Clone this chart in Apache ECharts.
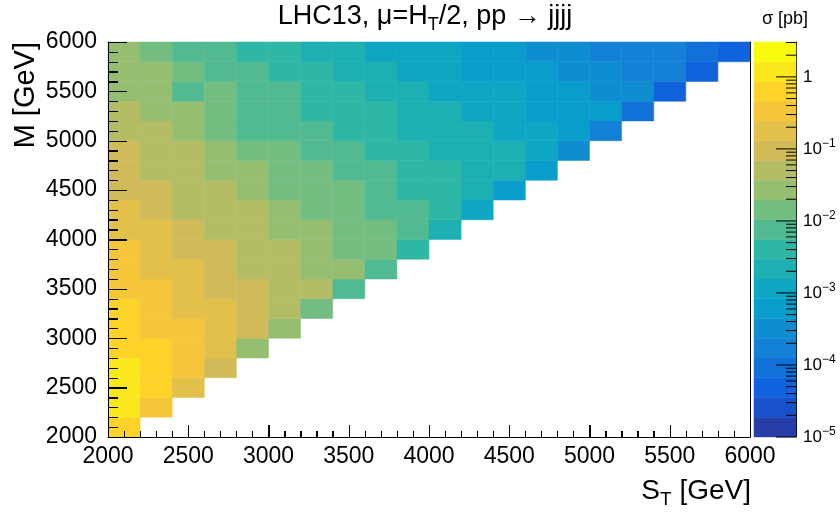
<!DOCTYPE html>
<html><head><meta charset="utf-8">
<script src="https://cdn.jsdelivr.net/npm/echarts@6/dist/echarts.min.js"></script>
<style>html,body{margin:0;padding:0;background:#fff}#c{width:840px;height:512px}</style>
</head><body><div id="c"></div>
<script>
// ---- bin edges (GeV) ----
const stEdges = [2000,2200,2400,2600,2800,3000,3200,3400,3600,3800,4000,4200,4400,4600,4800,5000,5200,5400,5600,5800,6000];
const mEdges  = [2000,2200,2400,2600,2800,3000,3200,3400,3600,3800,4000,4200,4400,4600,4800,5000,5200,5400,5600,5800,6000];
const axisTicks = [2000,2500,3000,3500,4000,4500,5000,5500,6000];

// ---- sigma [pb] per M bin; index = S_T bin starting at 2000 ----
const sigma_M2000 = [0.63];
const sigma_M2200 = [1.18,0.335];
const sigma_M2400 = [1.18,0.63,0.178];
const sigma_M2600 = [1.18,0.63,0.335,0.095];
const sigma_M2800 = [0.63,0.63,0.335,0.178,0.027];
const sigma_M3000 = [0.63,0.335,0.335,0.178,0.095,0.027];
const sigma_M3200 = [0.63,0.335,0.178,0.178,0.095,0.050,0.0142];
const sigma_M3400 = [0.335,0.335,0.178,0.095,0.095,0.050,0.050,0.0076];
const sigma_M3600 = [0.335,0.178,0.178,0.095,0.050,0.050,0.027,0.027,0.0076];
const sigma_M3800 = [0.335,0.178,0.095,0.095,0.050,0.050,0.027,0.0142,0.0142,0.0040];
const sigma_M4000 = [0.178,0.178,0.095,0.050,0.050,0.027,0.027,0.0142,0.0142,0.0076,0.00215];
const sigma_M4200 = [0.178,0.095,0.050,0.050,0.050,0.027,0.0142,0.0142,0.0076,0.0076,0.0040,0.00115];
const sigma_M4400 = [0.095,0.095,0.050,0.050,0.027,0.0142,0.0142,0.0142,0.0076,0.0040,0.0040,0.00215,0.00060];
const sigma_M4600 = [0.095,0.050,0.050,0.027,0.027,0.0142,0.0142,0.0076,0.0076,0.0040,0.0040,0.00215,0.00215,0.00060];
const sigma_M4800 = [0.095,0.050,0.050,0.027,0.0142,0.0142,0.0076,0.0076,0.0040,0.0040,0.00215,0.00215,0.00215,0.00115,0.00032];
const sigma_M5000 = [0.050,0.050,0.027,0.0142,0.0076,0.0076,0.0076,0.0040,0.0040,0.00215,0.00215,0.00215,0.00115,0.00115,0.00060,0.00017];
const sigma_M5200 = [0.050,0.027,0.027,0.0142,0.0076,0.0076,0.0040,0.0040,0.0040,0.00215,0.00215,0.00115,0.00115,0.00060,0.00060,0.00060,0.000090];
const sigma_M5400 = [0.027,0.027,0.0076,0.0142,0.0076,0.0076,0.0040,0.0040,0.00215,0.00215,0.00115,0.00115,0.00115,0.00060,0.00060,0.00032,0.00032,0.000048];
const sigma_M5600 = [0.027,0.027,0.0142,0.0076,0.0076,0.0040,0.0040,0.00215,0.00215,0.00115,0.00115,0.00060,0.00060,0.00060,0.00032,0.00032,0.00017,0.00017,0.000048];
const sigma_M5800 = [0.027,0.0142,0.0076,0.0076,0.0040,0.0040,0.00215,0.00215,0.00115,0.00115,0.00115,0.00060,0.00060,0.00032,0.00032,0.00017,0.00017,0.00017,0.000090,0.000048];

// ---- colour scale ----
const zMin = 1e-5, zMax = 3.05, nBands = 20;
const palette = ['#273DA8','#1751CB','#1063DC','#1271D9','#1480D6','#0E8ED1','#099DCC','#0DA7C3','#1EAFB3','#2EB7A4',
                 '#52BA91','#74BD80','#96BE71','#B4BC65','#D1BB58','#E2C04A','#F5C63A','#FDD32A','#FBE81C','#F9FB0E'];

const rows = [sigma_M2000,sigma_M2200,sigma_M2400,sigma_M2600,sigma_M2800,sigma_M3000,sigma_M3200,sigma_M3400,sigma_M3600,sigma_M3800,
              sigma_M4000,sigma_M4200,sigma_M4400,sigma_M4600,sigma_M4800,sigma_M5000,sigma_M5200,sigma_M5400,sigma_M5600,sigma_M5800];

const lMin = Math.log10(zMin), lMax = Math.log10(zMax), bw = (lMax - lMin) / nBands;
function bandOf(v){ let k = Math.floor((Math.log10(v) - lMin) / bw); return Math.max(0, Math.min(nBands - 1, k)); }

// cells: [x0, y0, x1, y1, sigma]
const cells = [];
rows.forEach((row, j) => row.forEach((v, i) => cells.push([stEdges[i], mEdges[j], stEdges[i+1], mEdges[j+1], v])));

// frame ticks every 100 GeV: [value, isMajor]
const frameTicks = [];
for (let v = axisTicks[0]; v <= axisTicks[axisTicks.length - 1]; v += 100) frameTicks.push([v, axisTicks.indexOf(v) >= 0 ? 1 : 0]);

const bands = [];
for (let k = 0; k < nBands; k++) bands.push([0.5, lMin + (k + 0.5)*bw, lMin + k*bw, lMin + (k+1)*bw, k, 0]);
for (let e = -5; e <= 0; e++) {
  bands.push([1, e, 0, 0, 1, 1]);
  for (let m = 2; m <= 9; m++) { const l = e + Math.log10(m); if (l < lMax) bands.push([1, l, 0, 0, 0, 1]); }
}

const FONT = '"Liberation Sans", Arial, Helvetica, sans-serif';
const chart = echarts.init(document.getElementById('c'), null, {renderer: 'canvas', width: 840, height: 512});
const plain = v => String(Math.round(v));

const titleGraphics = [
  {type: 'text', x: 425, y: 17, style: {text: '{n|LHC13, μ=H}{sub|T}{n|/2, pp → jjjj}', align: 'center', verticalAlign: 'middle',
    rich: {n: {fontSize: 27, fontFamily: FONT, color: '#000'}, sub: {fontSize: 18, fontFamily: FONT, color: '#000', padding: [16, 0, 0, 0]}}}},
  {type: 'text', x: 785, y: 19, style: {text: 'σ [pb]', align: 'center', verticalAlign: 'middle', font: '18px ' + FONT, fill: '#000'}},
  {type: 'text', x: 751, y: 491, style: {text: '{n|S}{sub|T}{n| [GeV]}', align: 'right', verticalAlign: 'middle',
    rich: {n: {fontSize: 28, fontFamily: FONT, color: '#000'}, sub: {fontSize: 19, fontFamily: FONT, color: '#000', padding: [17, 0, 0, 0]}}}},
  {type: 'text', x: 26, y: 42, rotation: Math.PI / 2, style: {text: 'M [GeV]', align: 'right', verticalAlign: 'middle', font: '29px ' + FONT, fill: '#000'}}
];

chart.setOption({
  animation: false,
  backgroundColor: '#ffffff',
  grid: [
    {left: 108, top: 42, width: 642, height: 395, show: false},
    {left: 754, top: 42, width: 42, height: 395}
  ],
  xAxis: [
    {type: 'value', gridIndex: 0, min: 2000, max: 6000, interval: 500, z: 20,
     axisLine: {show: true, onZero: false, lineStyle: {color: '#000', width: 1}},
     axisTick: {show: true, inside: true, length: 12, lineStyle: {color: '#000', width: 1}},
     minorTick: {show: true, splitNumber: 5, length: 6, lineStyle: {color: '#000', width: 1}},
     splitLine: {show: false},
     axisLabel: {fontSize: 23, color: '#000', fontFamily: FONT, margin: 8, formatter: plain}},
    {type: 'value', gridIndex: 0, min: 2000, max: 6000, position: 'top',
     axisLine: {show: true, onZero: false, lineStyle: {color: '#000', width: 1}},
     axisTick: {show: false}, axisLabel: {show: false}, splitLine: {show: false}},
    {type: 'value', gridIndex: 1, min: 0, max: 1, show: false}
  ],
  yAxis: [
    {type: 'value', gridIndex: 0, min: 2000, max: 6000, interval: 500, z: 20,
     axisLine: {show: true, onZero: false, lineStyle: {color: '#000', width: 1}},
     axisTick: {show: true, inside: true, length: 19, lineStyle: {color: '#000', width: 1}},
     minorTick: {show: true, splitNumber: 5, length: 10, lineStyle: {color: '#000', width: 1}},
     splitLine: {show: false},
     axisLabel: {fontSize: 23, color: '#000', fontFamily: FONT, margin: 11, formatter: plain}},
    {type: 'value', gridIndex: 0, min: 2000, max: 6000, position: 'right',
     axisLine: {show: true, onZero: false, lineStyle: {color: '#000', width: 1}},
     axisTick: {show: false}, axisLabel: {show: false}, splitLine: {show: false}},
    {type: 'value', gridIndex: 1, min: -5, max: lMax, interval: 1, position: 'right',
     axisLine: {show: true, onZero: false, lineStyle: {color: '#000', width: 1}},
     axisTick: {show: false}, splitLine: {show: false},
     axisLabel: {margin: 7, color: '#000', fontFamily: FONT, showMaxLabel: false,
       formatter: v => (Math.abs(v - Math.round(v)) > 1e-6 ? '' : (Math.round(v) === 0 ? '{b|1}' : '{b|10}{s|−' + (-Math.round(v)) + '}')),
       rich: {b: {fontSize: 17, fontFamily: FONT, color: '#000'}, s: {fontSize: 12, fontFamily: FONT, color: '#000', padding: [0, 0, 10, 0]}}}}
  ],
  series: [
    {type: 'custom', xAxisIndex: 0, yAxisIndex: 0, data: cells, clip: false, z: 2,
     renderItem: (params, api) => {
       const p0 = api.coord([api.value(0), api.value(3)]);
       const p1 = api.coord([api.value(2), api.value(1)]);
       const c = palette[bandOf(api.value(4))];
       return {type: 'rect', shape: {x: p0[0], y: p0[1], width: p1[0] - p0[0], height: p1[1] - p0[1]},
               style: {fill: c, stroke: c, lineWidth: 0.5}};
     }},
    {type: 'custom', xAxisIndex: 2, yAxisIndex: 2, data: bands, z: 2,
     renderItem: (params, api) => {
       if (api.value(5) === 0) {
         const p0 = api.coord([0, api.value(3)]);
         const p1 = api.coord([1, api.value(2)]);
         const c = palette[api.value(4)];
         return {type: 'rect', shape: {x: p0[0], y: p0[1], width: p1[0] - p0[0], height: p1[1] - p0[1]},
                 style: {fill: c, stroke: c, lineWidth: 0.5}};
       }
       const p = api.coord([api.value(0), api.value(1)]);
       const len = api.value(4) ? 20 : 10;
       return {type: 'line', z2: 10, shape: {x1: p[0], y1: p[1], x2: p[0] - len, y2: p[1]}, style: {stroke: '#000', lineWidth: 1}};
     }}
  ],
  graphic: titleGraphics
});

// frame ticks placed through the main grid's own scale
try {
  const tickGraphics = [];
  frameTicks.forEach(([v, major]) => {
    const px = chart.convertToPixel({xAxisIndex: 0, yAxisIndex: 0}, [v, 2000]);
    const py = chart.convertToPixel({xAxisIndex: 0, yAxisIndex: 0}, [2000, v]);
    const xl = major ? 12 : 6, yl = major ? 19 : 10;
    const xs = Math.round(px[0]) + 0.5, ys = Math.round(py[1]) + 0.5;
    tickGraphics.push({type: 'line', z: 50, shape: {x1: xs, y1: px[1], x2: xs, y2: px[1] - xl}, style: {stroke: '#000', lineWidth: 1}});
    tickGraphics.push({type: 'line', z: 50, shape: {x1: py[0], y1: ys, x2: py[0] + yl, y2: ys}, style: {stroke: '#000', lineWidth: 1}});
  });
  chart.setOption({graphic: titleGraphics.concat(tickGraphics)}, {replaceMerge: ['graphic']});
} catch (e) { console.error(e); }
</script>
</body></html>
